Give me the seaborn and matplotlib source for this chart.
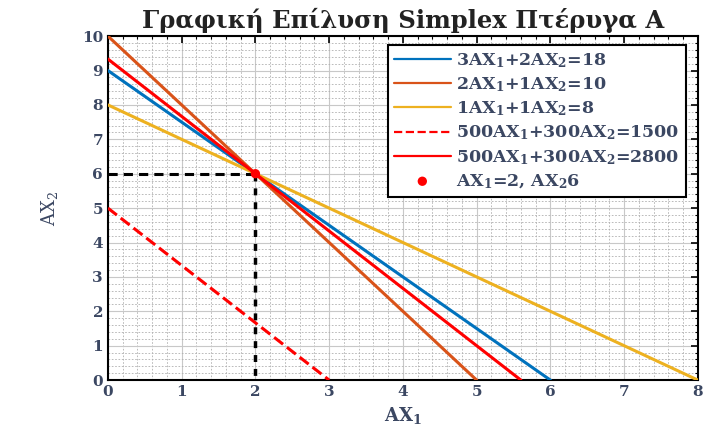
import numpy as np
import pandas as pd
import matplotlib
matplotlib.use("Agg")
import matplotlib.pyplot as plt
import seaborn as sns
from matplotlib.ticker import MultipleLocator

# --- data ---
coef_a = [3, 2, 1, 500, 500]
coef_b = [2, 1, 1, 300, 300]
rhs = [18, 10, 8, 1500, 2800]
labels = [r"3AX$\mathregular{_1}$+2AX$\mathregular{_2}$=18",
          r"2AX$\mathregular{_1}$+1AX$\mathregular{_2}$=10",
          r"1AX$\mathregular{_1}$+1AX$\mathregular{_2}$=8",
          r"500AX$\mathregular{_1}$+300AX$\mathregular{_2}$=1500",
          r"500AX$\mathregular{_1}$+300AX$\mathregular{_2}$=2800"]
colors = ["#0072BD", "#D95319", "#EDB120", "#FF0000", "#FF0000"]
styles = ["-", "-", "-", "--", "-"]
opt_x = [2]
opt_y = [6]
opt_label = r"AX$\mathregular{_1}$=2, AX$\mathregular{_2}$6"
x_ticks = [0, 1, 2, 3, 4, 5, 6, 7, 8]
y_ticks = [0, 1, 2, 3, 4, 5, 6, 7, 8, 9, 10]
title = "Γραφική Επίλυση Simplex Πτέρυγα Α"
x_label = r"AX$\mathregular{_1}$"
y_label = r"AX$\mathregular{_2}$"

sns.set_style("white")
plt.rcParams['font.family'] = ['DejaVu Serif', 'Liberation Serif']
plt.rcParams['mathtext.fontset'] = 'custom'
plt.rcParams['mathtext.rm'] = 'DejaVu Serif'
plt.rcParams['mathtext.it'] = 'DejaVu Serif:italic'
plt.rcParams['mathtext.bf'] = 'DejaVu Serif:bold'

txt_color = "#3b4762"

fig = plt.figure(figsize=(7.1, 4.3), dpi=100)
ax = fig.add_axes([0.152, 0.116, 0.831, 0.800])

for a, b, c, lab, col, ls in zip(coef_a, coef_b, rhs, labels, colors, styles):
    df = pd.DataFrame({"x": [0, c / a], "y": [c / b, 0]})
    sns.lineplot(data=df, x="x", y="y", ax=ax, color=col, linestyle=ls,
                 linewidth=2.2, label=lab, sort=False, estimator=None, zorder=3)

# guide lines to optimum
sns.lineplot(x=[0, opt_x[0]], y=[opt_y[0], opt_y[0]], ax=ax, color="black",
             linestyle=(0, (3, 2)), linewidth=2.2, sort=False, estimator=None, zorder=2)
sns.lineplot(x=[opt_x[0], opt_x[0]], y=[opt_y[0], 0], ax=ax, color="black",
             linestyle=(0, (2, 2)), linewidth=2.5, sort=False, estimator=None, zorder=2)

sns.scatterplot(x=opt_x, y=opt_y, ax=ax, color="#FF0000", s=45,
                edgecolor="none", label=opt_label, zorder=4)

ax.set_xlim(0, 8)
ax.set_ylim(0, 10)
ax.set_xticks(x_ticks)
ax.set_yticks(y_ticks)
ax.xaxis.set_minor_locator(MultipleLocator(0.2))
ax.yaxis.set_minor_locator(MultipleLocator(0.2))
ax.grid(which="major", color="#c8c8c8", linewidth=0.8, linestyle="-")
ax.grid(which="minor", color="#b0b0b0", linewidth=0.6, linestyle=(0, (2, 2)))
ax.set_axisbelow(True)

ax.tick_params(which="both", direction="in", top=True, right=True,
               colors="black", labelcolor=txt_color)
ax.tick_params(which="major", length=5, width=1.2, labelsize=11)
ax.tick_params(which="minor", length=2.5, width=0.8)
for lbl in ax.get_xticklabels() + ax.get_yticklabels():
    lbl.set_fontweight("bold")
for sp in ax.spines.values():
    sp.set_color("black")
    sp.set_linewidth(1.5)

ax.set_title(title, fontsize=17.5, fontweight="bold", color="#222222", pad=6)
ax.set_xlabel(x_label, fontsize=13, fontweight="bold", color=txt_color, labelpad=4)
ax.set_ylabel(y_label, fontsize=13, color=txt_color, labelpad=16)

leg = ax.legend(loc="upper right", bbox_to_anchor=(0.985, 0.985),
                prop={"size": 12.5, "weight": "bold"},
                frameon=True, fancybox=False, edgecolor="black", framealpha=1,
                handlelength=3.3, labelspacing=0.32, borderpad=0.35,
                handletextpad=0.3, borderaxespad=0.2)
leg.get_frame().set_linewidth(1.5)
for t in leg.get_texts():
    t.set_color(txt_color)
for h in leg.legend_handles:
    if hasattr(h, "set_linewidth") and not hasattr(h, "get_offsets"):
        h.set_linewidth(1.6)

fig.savefig("out.png", dpi=100)
